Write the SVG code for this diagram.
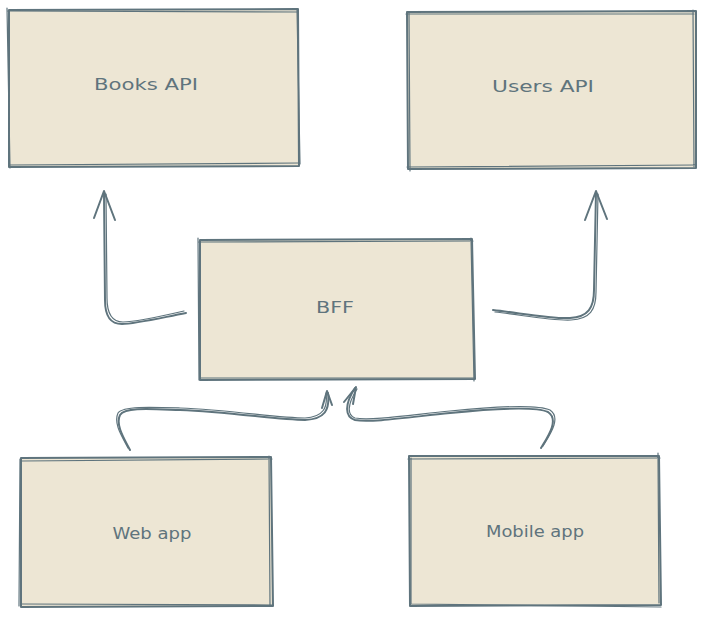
<svg xmlns="http://www.w3.org/2000/svg" width="705" height="617" viewBox="0 0 705 617">
<defs>
<style>
.box{fill:#ede6d4;stroke:#5f747d;stroke-width:2;stroke-linejoin:round}
.sk{fill:none;stroke:#5f747d;stroke-width:1.2;stroke-linecap:round}
.lbl{font-family:"DejaVu Sans",sans-serif;font-size:16px;fill:#5f747d;text-anchor:middle;dominant-baseline:central}
.con{fill:none;stroke:#5f747d;stroke-width:2;stroke-linecap:round;stroke-linejoin:round}
.con2{fill:none;stroke:#5f747d;stroke-width:1.2;stroke-linecap:round}
</style>
</defs>
<rect width="705" height="617" fill="#ffffff"/>
<g id="books-api">
<path class="box" d="M9,10 L298,9 L299,166 L9,167 Z"/>
<path class="sk" d="M7,8 L10,168 M8,11 L297,12 M297,9 L300,164 M10,165 L299,163"/>
<text class="lbl" x="146" y="84" textLength="104" lengthAdjust="spacingAndGlyphs">Books API</text>
</g>
<g id="users-api">
<path class="box" d="M407,12 L696,11 L696,168 L408,169 Z"/>
<path class="sk" d="M409,13 L410,171 M406,14 L694,14 M693,10 L694,167 M407,167 L696,165"/>
<text class="lbl" x="543" y="86" textLength="102" lengthAdjust="spacingAndGlyphs">Users API</text>
</g>
<g id="bff">
<path class="box" d="M200,240 L472,239 L475,379 L200,380 Z"/>
<path class="sk" d="M198,238 L199,380 M199,242 L473,241 M471,238 L474,381 M201,378 L474,378"/>
<text class="lbl" x="335" y="307" textLength="38" lengthAdjust="spacingAndGlyphs">BFF</text>
</g>
<g id="web-app">
<path class="box" d="M21,458 L271,457 L273,606 L21,607 Z"/>
<path class="sk" d="M20,459 L19,606 M22,461 L272,459 M269,456 L270,605 M22,604 L273,605"/>
<text class="lbl" x="152" y="533" textLength="79" lengthAdjust="spacingAndGlyphs">Web app</text>
</g>
<g id="mobile-app">
<path class="box" d="M409,456 L659,456 L661,605 L410,606 Z"/>
<path class="sk" d="M411,458 L411,604 M408,459 L660,458 M658,453 L659,603 M411,604 L661,607"/>
<text class="lbl" x="535" y="531" textLength="98" lengthAdjust="spacingAndGlyphs">Mobile app</text>
</g>
<g id="connectors">
<path class="con" d="M186,313 C160,318 135,324 122,324 C110,324 105,316 105,300 L104,192"/>
<path class="con2" d="M184,311 C158,317 134,322 123,322 C112,322 107,314 107,298 L106,194"/>
<path class="con" d="M94,218 L104,191 L115,220"/>
<path class="con" d="M493,310 C520,313 552,319 570,318 C588,317 594,308 594,290 L596,192"/>
<path class="con2" d="M495,312 C522,315 552,321 571,320 C590,319 596,310 596,292 L598,194"/>
<path class="con" d="M585,220 L596,191 L607,219"/>
<path class="con" d="M130,450 C125,440 115,425 120,415 C125,407 150,409 180,410 C230,412 280,420 305,420 C325,419 330,410 328,393"/>
<path class="con2" d="M128,448 C123,438 113,424 118,413 C123,406 150,407 180,408 C230,410 280,418 305,418 C323,417 328,408 326,393"/>
<path class="con" d="M322,408 L327,391 L332,405"/>
<path class="con" d="M541,448 C547,438 560,420 548,412 C535,406 490,409 450,413 C410,417 370,423 355,420 C345,417 344,405 355,388"/>
<path class="con2" d="M543,446 C549,436 562,418 550,410 C537,404 490,407 450,411 C410,415 370,421 355,418 C347,415 347,405 357,389"/>
<path class="con" d="M344,402 L356,387 L353,404"/>
</g>
</svg>
